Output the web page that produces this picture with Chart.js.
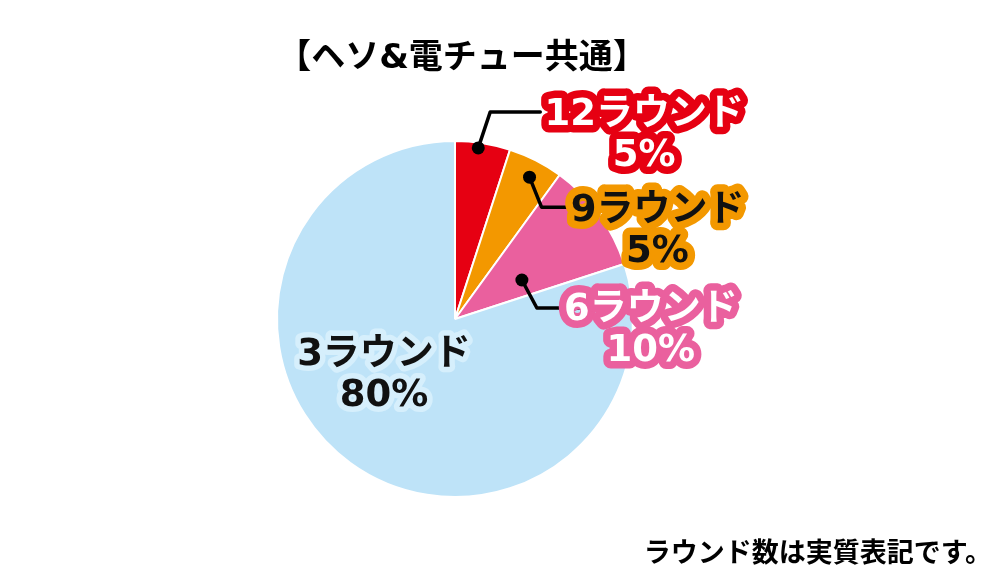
<!DOCTYPE html>
<html>
<head>
<meta charset="utf-8">
<script src="https://cdn.jsdelivr.net/npm/chart.js@4"></script>
<style>
  html, body { margin: 0; padding: 0; background: #fff; }
  #wrap { position: relative; width: 1000px; height: 577px; }
  #title { position: absolute; left: 0; width: 924px; top: 34px; text-align: center;
    font: bold 34px "DejaVu Sans", "Noto Sans CJK JP", sans-serif; color: #000; line-height: 44px; }
  #note { position: absolute; right: 8px; top: 534px;
    font: bold 27px "Noto Sans CJK JP", sans-serif; color: #000; line-height: 34px; }
</style>
</head>
<body>
<div id="wrap">
  <canvas id="pie" width="1000" height="577"></canvas>
  <div id="title">【ヘソ&amp;電チュー共通】</div>
  <div id="note">ラウンド数は実質表記です。</div>
</div>
<script>
// data
const rounds = ['12ラウンド', '9ラウンド', '6ラウンド', '3ラウンド'];
const shares = [5, 5, 10, 80];
const sliceColors = ['#e60012', '#f39800', '#ea609e', '#bee3f8'];

// label look: text fill, halo colour, leader line (dot position inside slice, elbow offset, label offset)
const labelStyle = [
  { fill: '#fff', halo: '#e60012', halo_w: 15, dot: [0.43, 0.97], elbow: [12, -36], text: [154, 3] },
  { fill: '#111', halo: '#f39800', halo_w: 15, dot: [0.54, 0.90], elbow: [12, 30], text: [116, 4] },
  { fill: '#fff', halo: '#ea609e', halo_w: 15, dot: [0.66, 0.435], elbow: [15, 28], text: [114, 2] },
  { fill: '#111', halo: '#d6effc', halo_w: 11, center: [-71, 36] }
];

const labelPlugin = {
  id: 'roundLabels',
  afterDatasetsDraw(chart) {
    const ctx = chart.ctx;
    const arcs = chart.getDatasetMeta(0).data;
    ctx.save();
    ctx.lineJoin = 'round';
    ctx.lineCap = 'round';
    arcs.forEach((arc, i) => {
      const st = labelStyle[i];
      const p = arc.getProps(['x', 'y', 'startAngle', 'endAngle', 'outerRadius']);
      let tx, ty;
      if (st.dot) {
        const a = p.startAngle + (p.endAngle - p.startAngle) * st.dot[0];
        const r = p.outerRadius * st.dot[1];
        const dx = p.x + Math.cos(a) * r, dy = p.y + Math.sin(a) * r;
        const ex = dx + st.elbow[0], ey = dy + st.elbow[1];
        tx = ex + st.text[0]; ty = ey + st.text[1];
        ctx.strokeStyle = '#000';
        ctx.lineWidth = 3.5;
        ctx.beginPath();
        ctx.moveTo(dx, dy);
        ctx.lineTo(ex, ey);
        ctx.lineTo(ex + 50, ey);
        ctx.stroke();
        ctx.fillStyle = '#000';
        ctx.beginPath();
        ctx.arc(dx, dy, 6.5, 0, Math.PI * 2);
        ctx.fill();
      } else {
        tx = p.x + st.center[0]; ty = p.y + st.center[1];
      }
      const lines = [rounds[i], shares[i] + '%'];
      ctx.font = 'bold 37px "DejaVu Sans", "Noto Sans CJK JP", sans-serif';
      ctx.textAlign = 'center';
      ctx.textBaseline = 'middle';
      lines.forEach((t, k) => {
        ctx.strokeStyle = st.halo;
        ctx.lineWidth = st.halo_w;
        ctx.strokeText(t, tx, ty + k * 41);
      });
      lines.forEach((t, k) => {
        ctx.fillStyle = st.fill;
        ctx.fillText(t, tx, ty + k * 41);
      });
    });
    ctx.restore();
  }
};

new Chart(document.getElementById('pie'), {
  type: 'pie',
  data: {
    labels: rounds,
    datasets: [{
      data: shares,
      backgroundColor: sliceColors,
      borderColor: '#fff',
      borderWidth: 2
    }]
  },
  options: {
    responsive: false,
    animation: false,
    layout: { padding: { top: 140, bottom: 79, left: 0, right: 90 } },
    plugins: { legend: { display: false }, tooltip: { enabled: false }, title: { display: false } }
  },
  plugins: [labelPlugin]
});
</script>
</body>
</html>
